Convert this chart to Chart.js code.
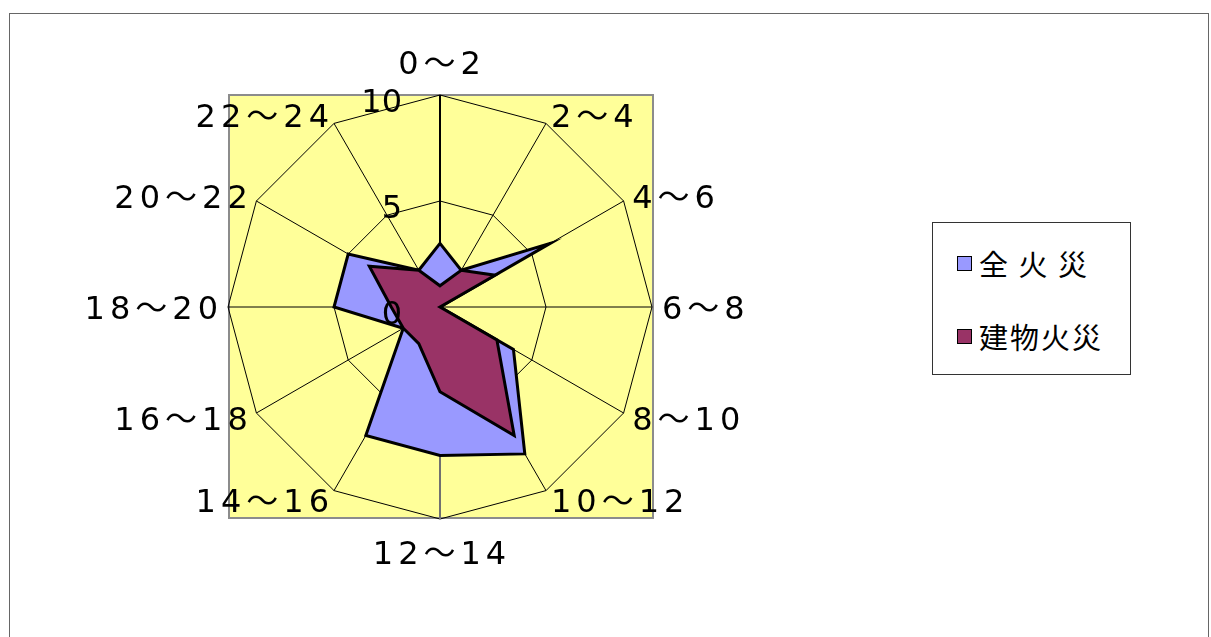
<!DOCTYPE html>
<html lang="ja">
<head>
<meta charset="utf-8">
<script src="https://cdn.jsdelivr.net/npm/chart.js@4/dist/chart.umd.min.js"></script>
<style>
  html, body { margin: 0; padding: 0; background: #fff; width: 1211px; height: 637px; overflow: hidden; }
  #frame { position: absolute; left: 9px; top: 13px; width: 1198px; height: 700px; border: 1px solid #666; }
  #wrap { position: absolute; left: 0; top: 0; width: 1211px; height: 637px; }
  #legend { position: absolute; left: 932px; top: 222px; width: 197px; height: 151px; border: 1px solid #333; background: #fff;
            font-family: "Noto Sans CJK JP", "Noto Sans", sans-serif; font-size: 29px; color: #000; }
  .item { position: absolute; left: 24px; height: 34px; display: flex; align-items: center; white-space: pre; letter-spacing: 2px; }
  .mark { width: 13px; height: 13px; border: 1.5px solid #000; margin-right: 7px; flex: none; }
</style>
</head>
<body>
<div id="frame"></div>
<div id="wrap"><canvas id="c"></canvas></div>
<div id="legend">
  <div class="item" style="top:23px"><span class="mark" style="background:#9999FF"></span><span id="l0"></span></div>
  <div class="item" style="top:96px"><span class="mark" style="background:#993366"></span><span id="l1"></span></div>
</div>
<script>
// ---- data ----
const categories = ['0～2','2～4','4～6','6～8','8～10','10～12','12～14','14～16','16～18','18～20','20～22','22～24'];
const seriesNames = ['全 火 災', '建物火災'];
const allFires = [3, 2, 6, 0, 4, 8, 7, 7, 2, 5, 5, 2];
const buildingFires = [1, 2, 3, 0, 3.1, 7, 4, 2, 2, 2.3, 3.85, 2];
const tickValues = [0, 5, 10];
const tickLabels = ['0', '5', '10'];

document.getElementById('l0').textContent = seriesNames[0];
document.getElementById('l1').textContent = seriesNames[1];

const bgPlugin = {
  id: 'bgSquare',
  beforeDraw(chart) {
    const a = chart.chartArea, ctx = chart.ctx;
    ctx.save();
    ctx.fillStyle = '#FFFF99';
    ctx.fillRect(a.left, a.top, a.right - a.left, a.bottom - a.top);
    ctx.strokeStyle = '#8c8c8c';
    ctx.lineWidth = 2;
    ctx.strokeRect(a.left + 1, a.top, a.right - a.left, a.bottom - a.top - 1);
    ctx.restore();
  }
};

const labelPlugin = {
  id: 'radarLabels',
  afterDatasetsDraw(chart) {
    const s = chart.scales.r, ctx = chart.ctx;
    const n = categories.length;
    ctx.save();
    ctx.fillStyle = '#000';
    ctx.textBaseline = 'middle';
    ctx.font = '32px "DejaVu Sans", "Noto Sans CJK JP", sans-serif';
    // tick labels
    ctx.textAlign = 'right';
    tickValues.forEach((v, i) => {
      const y = s.yCenter - s.getDistanceFromCenterForValue(v);
      ctx.fillText(tickLabels[i], s.xCenter - 38, y + 9);
    });
    // point labels
    if ('letterSpacing' in ctx) ctx.letterSpacing = '5px';
    categories.forEach((lab, i) => {
      let d = s.drawingArea + 10, align, dx = 0;
      if (i === 0 || i === n / 2) { d = s.drawingArea + 33; align = 'center'; dx = 2; }
      else if (i < n / 2) { align = 'left'; }
      else { align = 'right'; dx = 5; }
      const p = s.getPointPosition(i, d);
      ctx.textAlign = align;
      ctx.fillText(lab, p.x + dx, p.y + 4);
    });
    ctx.restore();
  }
};

new Chart(document.getElementById('c'), {
  type: 'radar',
  data: {
    labels: categories,
    datasets: [
      { label: seriesNames[0], data: allFires, backgroundColor: '#9999FF', borderColor: '#000', borderWidth: 3, pointRadius: 0, order: 2, borderJoinStyle: 'miter' },
      { label: seriesNames[1], data: buildingFires, backgroundColor: '#993366', borderColor: '#000', borderWidth: 3, pointRadius: 0, order: 1, borderJoinStyle: 'miter' }
    ]
  },
  options: {
    responsive: true,
    maintainAspectRatio: false,
    animation: false,
    layout: { padding: { left: 228, top: 95, right: 559, bottom: 118 } },
    plugins: { legend: { display: false }, tooltip: { enabled: false } },
    elements: { line: { tension: 0 } },
    scales: {
      r: {
        min: 0, max: 10,
        ticks: { stepSize: 5, display: false, showLabelBackdrop: false },
        grid: { color: '#000', lineWidth: 1 },
        angleLines: {
          color: (c) => c.index === 6 ? '#707070' : '#000',
          lineWidth: (c) => (c.index === 0 || c.index === 6) ? 2 : 1
        },
        pointLabels: { display: false }
      }
    }
  },
  plugins: [bgPlugin, labelPlugin]
});
</script>
</body>
</html>
